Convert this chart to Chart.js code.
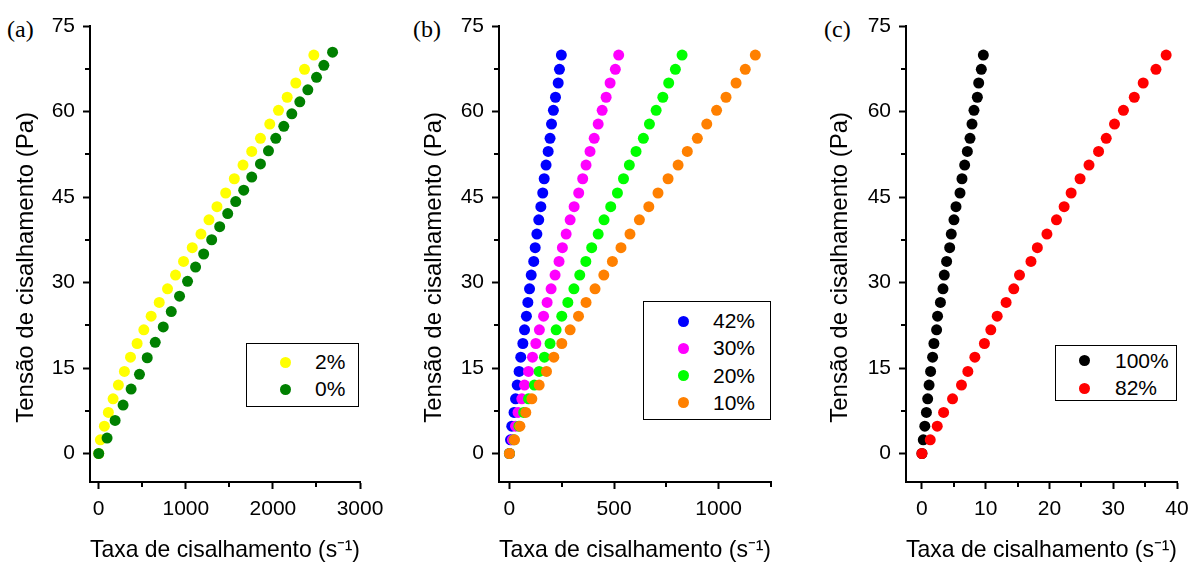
<!DOCTYPE html>
<html>
<head>
<meta charset="utf-8">
<script src="https://cdn.jsdelivr.net/npm/chart.js@4.4.1/dist/chart.umd.min.js"></script>
<style>
  body { margin: 0; background: #fff; width: 1198px; height: 565px; position: relative; overflow: hidden; font-family: "Liberation Sans", Arial, sans-serif; }
  .panel { position: absolute; top: 0; }
  .tag { position: absolute; top: 17px; font-family: "Liberation Serif", "Times New Roman", serif; font-size: 24px; line-height: 24px; }
  .legend { position: absolute; border: 1px solid #000; box-sizing: border-box; background: #fff; }
  .legend .dot { position: absolute; width: 11px; height: 11px; border-radius: 50%; margin: -5.5px 0 0 -5.5px; }
  .legend .lbl { position: absolute; font-size: 21px; line-height: 24px; margin-top: -12px; white-space: nowrap; }
</style>
</head>
<body>
<div class="tag" style="left:7px">(a)</div>
<div class="tag" style="left:413px">(b)</div>
<div class="tag" style="left:824px">(c)</div>
<canvas id="chart-a" class="panel" width="400" height="565" style="left:0"></canvas>
<canvas id="chart-b" class="panel" width="400" height="565" style="left:400px"></canvas>
<canvas id="chart-c" class="panel" width="398" height="565" style="left:800px"></canvas>
<script>
// shear stress (Pa), shared by most series
const stress = [0, 2.4, 4.8, 7.2, 9.6, 12.0, 14.4, 16.9, 19.3, 21.7, 24.1, 26.5, 28.9, 31.3, 33.7,
  36.1, 38.5, 41.0, 43.3, 45.7, 48.2, 50.6, 53.0, 55.3, 57.8, 60.2, 62.5, 65.0, 67.4, 69.9];
// the 0% run in (a) sits on a slightly different stress grid
const stressPure = [0, 2.7, 5.8, 8.5, 11.3, 13.9, 16.8, 19.5, 22.2, 24.9, 27.6, 30.2, 32.7, 35.0, 37.5,
  39.8, 42.1, 44.2, 46.2, 48.5, 50.8, 53.1, 55.3, 57.4, 59.6, 61.7, 63.8, 66.0, 68.1, 70.4];

// shear rate (1/s)
const rate2 = [0, 19, 65, 111, 165, 226, 295, 365, 441, 518, 602, 695, 790, 882, 974,
  1074, 1174, 1266, 1358, 1458, 1557, 1657, 1757, 1857, 1964, 2064, 2164, 2263, 2363, 2470];
const rate0 = [0, 96, 188, 280, 372, 468, 557, 649, 741, 833, 928, 1020, 1112, 1205, 1297,
  1389, 1481, 1573, 1665, 1757, 1857, 1949, 2033, 2125, 2217, 2309, 2401, 2501, 2585, 2685];

const rate42 = [0, 5, 11, 22, 29, 37, 46, 54, 64, 72, 81, 88, 96, 104, 116,
  123, 131, 140, 150, 159, 166, 175, 185, 194, 201, 210, 220, 233, 239, 248];
const rate30 = [0, 14, 29, 41, 59, 72, 91, 110, 126, 143, 163, 180, 199, 218, 237,
  253, 271, 290, 309, 331, 350, 366, 385, 405, 424, 443, 462, 481, 506, 522];
const rate20 = [0, 22, 45, 68, 91, 119, 142, 167, 194, 223, 250, 279, 308, 336, 365,
  393, 424, 452, 484, 516, 545, 573, 605, 640, 669, 701, 733, 761, 793, 825];
const rate10 = [0, 24, 50, 78, 107, 142, 177, 212, 250, 290, 330, 366, 409, 451, 492,
  533, 576, 621, 666, 710, 758, 806, 850, 898, 943, 990, 1035, 1083, 1127, 1175];

const rate100 = [0, 0.21, 0.45, 0.7, 0.9, 1.12, 1.36, 1.67, 1.88, 2.3, 2.45, 2.9, 3.3, 3.5, 3.87,
  4.35, 4.6, 5.02, 5.34, 5.97, 6.28, 6.7, 7.12, 7.54, 7.85, 8.16, 8.69, 8.9, 9.31, 9.63];
const rate82 = [0, 1.3, 2.4, 3.4, 4.8, 6.2, 7.2, 8.3, 9.8, 10.8, 11.8, 13.2, 14.4, 15.3, 17.1,
  18.1, 19.6, 21.1, 22.3, 23.4, 24.8, 26.2, 27.7, 28.9, 30.2, 31.6, 33.3, 34.7, 36.7, 38.3];

// ticks
const yTicks = [0, 15, 30, 45, 60, 75];
const yMinor = [7.5, 22.5, 37.5, 52.5, 67.5];
const xTicksA = [0, 1000, 2000, 3000];
const xMinorA = [500, 1500, 2500];
const xTicksB = [0, 500, 1000];
const xMinorB = [250, 750, 1250];
const xTicksC = [0, 10, 20, 30, 40];
const xMinorC = [5, 15, 25, 35];

const FONT = '"Liberation Sans", Arial, sans-serif';
// trailing no-break spaces push the centred y title a little lower, as in the original
const Y_TITLE = 'Tensão de cisalhamento (Pa)\u00A0\u00A0\u00A0\u00A0';
const X_TITLE = 'Taxa de cisalhamento (s\u207B\u00B9)';

const panels = [
  {
    canvas: 'chart-a', axisW: 90, padRight: 40, titlePad: 13, xMin: -100, xMax: 3000,
    xTicks: xTicksA, xMinor: xMinorA,
    series: [
      { label: '2%', x: rate2, y: stress, color: '#FFFF00' },
      { label: '0%', x: rate0, y: stressPure, color: '#008000' }
    ],
    legend: { left: 246, top: 343, width: 113, height: 64, first: 19, step: 27, dotX: 39, textX: 69 }
  },
  {
    canvas: 'chart-b', axisW: 99, padRight: 29, titlePad: 21, xMin: -50, xMax: 1250,
    xTicks: xTicksB, xMinor: xMinorB,
    series: [
      { label: '42%', x: rate42, y: stress, color: '#0000FF' },
      { label: '30%', x: rate30, y: stress, color: '#FF00FF' },
      { label: '20%', x: rate20, y: stress, color: '#00FF00' },
      { label: '10%', x: rate10, y: stress, color: '#FF8000' }
    ],
    legend: { left: 643, top: 301, width: 128, height: 119, first: 20, step: 27.3, dotX: 40, textX: 70 }
  },
  {
    canvas: 'chart-c', axisW: 106, padRight: 21, titlePad: 27, xMin: -2.5, xMax: 40,
    xTicks: xTicksC, xMinor: xMinorC,
    series: [
      { label: '100%', x: rate100, y: stress, color: '#000000' },
      { label: '82%', x: rate82, y: stress, color: '#FF0000' }
    ],
    legend: { left: 1055, top: 345, width: 122, height: 56, first: 15.7, step: 27.3, dotX: 29, textX: 60 }
  }
];

// short unlabeled ticks between the major ones
const minorTicks = {
  id: 'minorTicks',
  afterDraw(chart, args, opts) {
    const { ctx, chartArea, scales } = chart;
    ctx.save();
    ctx.strokeStyle = '#000';
    ctx.lineWidth = 2;
    ctx.beginPath();
    opts.x.forEach(v => {
      const px = Math.round(scales.x.getPixelForValue(v));
      ctx.moveTo(px, chartArea.bottom);
      ctx.lineTo(px, chartArea.bottom + opts.len);
    });
    opts.y.forEach(v => {
      const py = Math.round(scales.y.getPixelForValue(v));
      ctx.moveTo(chartArea.left, py);
      ctx.lineTo(chartArea.left - opts.len, py);
    });
    ctx.stroke();
    ctx.restore();
  }
};

function axisStyle() {
  return {
    grid: { drawOnChartArea: false, drawTicks: true, tickLength: 7, tickColor: '#000', tickWidth: 2 },
    border: { display: true, color: '#000', width: 2 },
  };
}

function buildLegend(p) {
  const L = p.legend;
  const box = document.createElement('div');
  box.className = 'legend';
  box.style.left = L.left + 'px';
  box.style.top = L.top + 'px';
  box.style.width = L.width + 'px';
  box.style.height = L.height + 'px';
  p.series.forEach((s, i) => {
    const cy = L.first + i * L.step - 1;
    const dot = document.createElement('span');
    dot.className = 'dot';
    dot.style.left = (L.dotX - 1) + 'px';
    dot.style.top = cy + 'px';
    dot.style.background = s.color;
    const lbl = document.createElement('span');
    lbl.className = 'lbl';
    lbl.style.left = (L.textX - 1) + 'px';
    lbl.style.top = cy + 'px';
    lbl.textContent = s.label;
    box.appendChild(dot);
    box.appendChild(lbl);
  });
  document.body.appendChild(box);
}

panels.forEach(p => {
  const n = p.series.length;
  new Chart(document.getElementById(p.canvas), {
    type: 'scatter',
    data: {
      datasets: p.series.map((s, i) => ({
        label: s.label,
        data: s.x.map((v, k) => ({ x: v, y: s.y[k] })),
        backgroundColor: s.color,
        borderWidth: 0,
        pointRadius: 5.5,
        pointHoverRadius: 5.5,
        order: n - i
      }))
    },
    options: {
      responsive: false,
      animation: false,
      events: [],
      layout: { padding: { left: 0, top: 26, right: p.padRight, bottom: 0 } },
      plugins: {
        legend: { display: false },
        tooltip: { enabled: false },
        minorTicks: { x: p.xMinor, y: yMinor, len: 5 }
      },
      scales: {
        x: {
          type: 'linear',
          position: 'bottom',
          min: p.xMin,
          max: p.xMax,
          afterBuildTicks: sc => { sc.ticks = p.xTicks.map(v => ({ value: v })); },
          afterFit: sc => { sc.height = 83; },
          ...axisStyle(),
          ticks: { color: '#000', font: { family: FONT, size: 21 }, padding: 8, maxRotation: 0, autoSkip: false,
                   callback: v => String(v) },
          title: { display: true, text: X_TITLE, color: '#000',
                   font: { family: FONT, size: 24 }, padding: 0 }
        },
        y: {
          type: 'linear',
          position: 'left',
          min: -5,
          max: 75,
          afterBuildTicks: sc => { sc.ticks = yTicks.map(v => ({ value: v })); },
          afterFit: sc => { sc.width = p.axisW; },
          ...axisStyle(),
          ticks: { color: '#000', font: { family: FONT, size: 21 }, padding: 8, autoSkip: false,
                   callback: v => String(v) },
          title: { display: true, text: Y_TITLE, color: '#000',
                   font: { family: FONT, size: 24 }, padding: { top: p.titlePad - 1, bottom: 0 } }
        }
      }
    },
    plugins: [minorTicks]
  });
  buildLegend(p);
});
</script>
</body>
</html>
